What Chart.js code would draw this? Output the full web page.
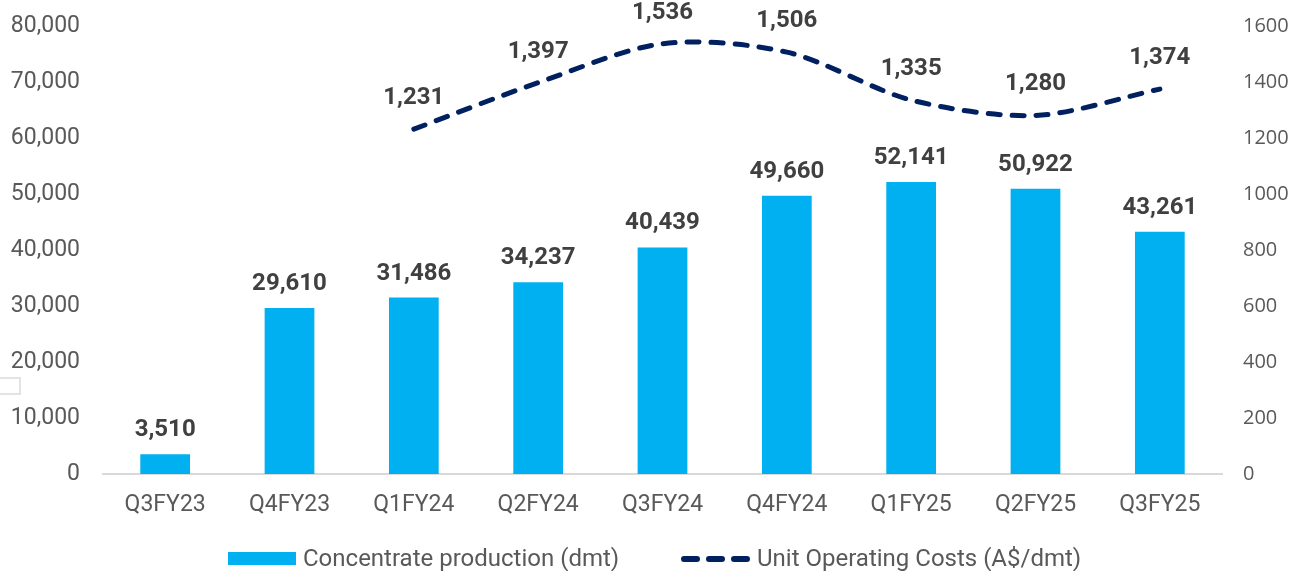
<!DOCTYPE html>
<html>
<head>
<meta charset="utf-8">
<script src="https://cdn.jsdelivr.net/npm/chart.js@4"></script>
<style>
  html,body{margin:0;padding:0;background:#fff;overflow:hidden;}
  #wrap{position:relative;width:1293px;height:571px;overflow:hidden;}
  #c{position:absolute;left:0;top:-11px;}
  .leg{position:absolute;top:543px;font-family:Roboto,sans-serif;font-size:24px;color:#595959;white-space:nowrap;line-height:30px;}
  .sw{display:inline-block;vertical-align:middle;}
  #mark{position:absolute;left:-2px;top:377px;width:19px;height:14px;border:2px solid #E3E3E3;}
</style>
</head>
<body>
<div id="wrap">
  <canvas id="c" width="1293" height="582"></canvas>
  <div id="mark"></div>
  <div class="leg" style="left:228px;"><span class="sw" style="width:68px;height:13px;background:#00B0F0;margin-right:7px;position:relative;top:-1px;"></span>Concentrate production (dmt)</div>
  <div class="leg" style="left:680px;"><svg class="sw" width="72" height="14" style="margin-right:5px;position:relative;top:-1px;"><line x1="4" y1="7" x2="68" y2="7" stroke="#002060" stroke-width="6" stroke-linecap="round" stroke-dasharray="13 12"/></svg>Unit Operating Costs (A$/dmt)</div>
</div>
<script>
const categories = ['Q3FY23','Q4FY23','Q1FY24','Q2FY24','Q3FY24','Q4FY24','Q1FY25','Q2FY25','Q3FY25'];
const production = [3510, 29610, 31486, 34237, 40439, 49660, 52141, 50922, 43261];
const unitCosts = [null, null, 1231, 1397, 1536, 1506, 1335, 1280, 1374];
const leftTicks = [0, 10000, 20000, 30000, 40000, 50000, 60000, 70000, 80000];
const rightTicks = [0, 200, 400, 600, 800, 1000, 1200, 1400, 1600];

const fmt = v => v.toLocaleString('en-US');

const labelPlugin = {
  id: 'valueLabels',
  afterDatasetsDraw(chart) {
    const ctx = chart.ctx;
    ctx.save();
    ctx.font = 'bold 24px Roboto, sans-serif';
    ctx.fillStyle = '#404040';
    ctx.textAlign = 'center';
    ctx.textBaseline = 'middle';
    chart.getDatasetMeta(0).data.forEach((el, i) => {
      const v = production[i];
      if (v == null) return;
      ctx.fillText(fmt(v), el.x, el.y - 24);
    });
    chart.getDatasetMeta(1).data.forEach((el, i) => {
      const v = unitCosts[i];
      if (v == null) return;
      ctx.fillText(fmt(v), el.x, el.y - 31);
    });
    ctx.restore();
  }
};

new Chart(document.getElementById('c'), {
  data: {
    labels: categories,
    datasets: [
      {
        type: 'bar',
        label: 'Concentrate production (dmt)',
        data: production,
        backgroundColor: '#00B0F0',
        yAxisID: 'y',
        barPercentage: 0.4,
        categoryPercentage: 1.0,
        order: 2
      },
      {
        type: 'line',
        label: 'Unit Operating Costs (A$/dmt)',
        data: unitCosts,
        borderColor: '#002060',
        borderWidth: 5,
        borderDash: [12, 12],
        borderCapStyle: 'round',
        tension: 0.3,
        pointRadius: 0,
        fill: false,
        yAxisID: 'y1',
        order: 1
      }
    ]
  },
  options: {
    responsive: false,
    animation: false,
    layout: { padding: { top: 12, left: 0, right: 0, bottom: 0 } },
    plugins: { legend: { display: false }, tooltip: { enabled: false } },
    scales: {
      x: {
        grid: { display: false, drawTicks: false },
        border: { display: true, color: '#D9D9D9', width: 2 },
        ticks: { color: '#595959', font: { family: 'Roboto', size: 23 }, padding: 17 },
        afterFit(s) { s.height = 97; }
      },
      y: {
        position: 'left',
        min: 0, max: 80000,
        afterBuildTicks(s) { s.ticks = leftTicks.map(v => ({ value: v })); },
        grid: { display: false, drawTicks: false },
        border: { display: false },
        ticks: { color: '#595959', font: { family: 'Roboto', size: 23 }, padding: 23, callback: v => fmt(v) },
        afterFit(s) { s.width = 103; }
      },
      y1: {
        position: 'right',
        min: 0, max: 1600,
        afterBuildTicks(s) { s.ticks = rightTicks.map(v => ({ value: v })); },
        grid: { display: false, drawTicks: false },
        border: { display: false },
        ticks: { color: '#595959', font: { family: 'Open Sans', size: 20 }, padding: 21, callback: v => String(v) },
        afterFit(s) { s.width = 71; }
      }
    }
  },
  plugins: [labelPlugin]
});
</script>
</body>
</html>
